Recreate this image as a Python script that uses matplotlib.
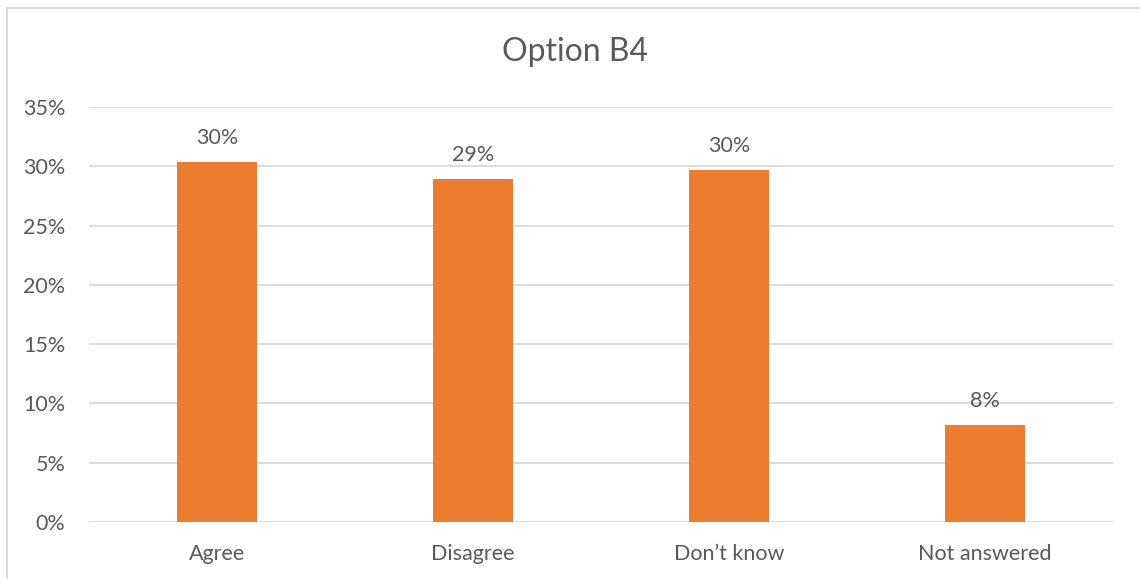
import matplotlib
matplotlib.use("Agg")
import matplotlib.pyplot as plt
from matplotlib.patches import Rectangle
from matplotlib.ticker import MultipleLocator, FuncFormatter

categories = ["Agree", "Disagree", "Don\u2019t know", "Not answered"]
shares = [30.35, 28.95, 29.7, 8.2]  # percent of responses

title = "Option B4"
bar_color = "#ED7D31"
text_color = "#595959"
grid_color = "#D9D9D9"

plt.rcParams["font.family"] = ["Lato", "DejaVu Sans"]

fig = plt.figure(figsize=(11.4, 5.79), dpi=100)
ax = fig.add_axes([89 / 1140, 57 / 579, 1024 / 1140, 415 / 579])

# light chart-area frame
fig.patches.append(Rectangle((7 / 1140, -0.01), 1.1, (579 - 8) / 579 + 0.01,
                             transform=fig.transFigure, fill=False,
                             edgecolor=grid_color, linewidth=1.3))

x = range(len(categories))
bars = ax.bar(x, shares, width=0.31, color=bar_color, zorder=3)

for rect, v in zip(bars, shares):
    ax.annotate(f"{v:.0f}%", (rect.get_x() + rect.get_width() / 2, v),
                xytext=(0, 10), textcoords="offset points",
                ha="center", va="bottom", fontsize=15.5, color=text_color)

ax.set_xlim(-0.5, len(categories) - 0.5)
ax.set_ylim(0, 35)
ax.yaxis.set_major_locator(MultipleLocator(5))
ax.yaxis.set_major_formatter(FuncFormatter(lambda v, _: f"{v:.0f}%"))
ax.set_xticks(list(x))
ax.set_xticklabels(categories)
ax.tick_params(axis="both", length=0, labelsize=15.5, labelcolor=text_color)
ax.tick_params(axis="y", pad=17)
ax.tick_params(axis="x", pad=16)
ax.grid(axis="y", color=grid_color, linewidth=1.3, zorder=0)
for s in ax.spines.values():
    s.set_visible(False)

fig.text(575 / 1140, 1 - 52 / 579, title, ha="center", va="center",
         fontsize=23, color=text_color)

fig.savefig("out.png", dpi=100)
